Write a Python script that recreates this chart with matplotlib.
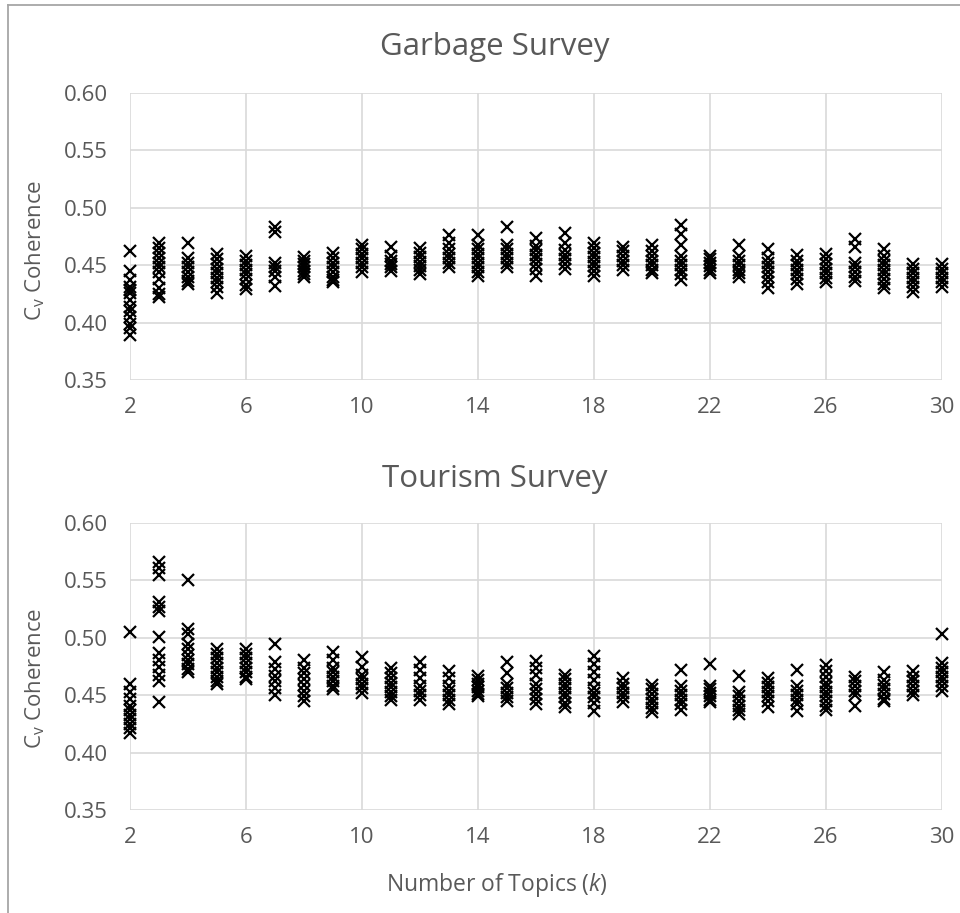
import matplotlib
matplotlib.use('Agg')
import matplotlib.pyplot as plt
from matplotlib.lines import Line2D

plt.rcParams['font.family'] = ['Open Sans', 'DejaVu Sans']
plt.rcParams['mathtext.fontset'] = 'custom'
plt.rcParams['mathtext.rm'] = 'Open Sans'
plt.rcParams['mathtext.it'] = 'Open Sans:italic'

# number of topics
topics = list(range(2, 31))

# coherence values per k (one list per k)
garbage = [
    [0.462, 0.445, 0.437, 0.431, 0.428, 0.426, 0.420, 0.414, 0.410, 0.405, 0.399, 0.395, 0.389],
    [0.469, 0.465, 0.461, 0.456, 0.452, 0.448, 0.444, 0.438, 0.430, 0.425, 0.422],
    [0.469, 0.456, 0.452, 0.448, 0.444, 0.440, 0.436, 0.434],
    [0.460, 0.455, 0.451, 0.447, 0.443, 0.439, 0.435, 0.431, 0.426],
    [0.458, 0.454, 0.450, 0.446, 0.442, 0.438, 0.433, 0.429],
    [0.483, 0.479, 0.452, 0.448, 0.445, 0.440, 0.432],
    [0.457, 0.454, 0.451, 0.448, 0.445, 0.442, 0.440],
    [0.461, 0.456, 0.452, 0.448, 0.444, 0.440, 0.437, 0.435],
    [0.468, 0.464, 0.460, 0.456, 0.452, 0.448, 0.444],
    [0.466, 0.458, 0.454, 0.451, 0.448, 0.445],
    [0.465, 0.461, 0.457, 0.453, 0.449, 0.446, 0.442],
    [0.476, 0.469, 0.464, 0.460, 0.456, 0.452, 0.448],
    [0.476, 0.468, 0.464, 0.460, 0.456, 0.452, 0.448, 0.444, 0.441],
    [0.483, 0.468, 0.464, 0.460, 0.456, 0.452, 0.448],
    [0.474, 0.467, 0.463, 0.459, 0.455, 0.451, 0.447, 0.441],
    [0.478, 0.469, 0.463, 0.459, 0.455, 0.451, 0.447],
    [0.469, 0.465, 0.461, 0.457, 0.453, 0.449, 0.445, 0.441],
    [0.466, 0.462, 0.458, 0.454, 0.450, 0.446],
    [0.468, 0.462, 0.458, 0.454, 0.450, 0.446, 0.443],
    [0.485, 0.477, 0.468, 0.458, 0.454, 0.450, 0.446, 0.442, 0.437],
    [0.458, 0.455, 0.452, 0.449, 0.446, 0.443],
    [0.468, 0.458, 0.454, 0.450, 0.446, 0.443, 0.440],
    [0.464, 0.456, 0.452, 0.448, 0.444, 0.440, 0.435, 0.430],
    [0.459, 0.454, 0.450, 0.446, 0.442, 0.438, 0.434],
    [0.460, 0.455, 0.451, 0.447, 0.443, 0.439, 0.435],
    [0.473, 0.466, 0.452, 0.448, 0.444, 0.440, 0.436],
    [0.464, 0.458, 0.454, 0.450, 0.446, 0.442, 0.438, 0.434, 0.430],
    [0.451, 0.447, 0.443, 0.439, 0.435, 0.431, 0.427],
    [0.451, 0.447, 0.443, 0.439, 0.435, 0.431],
]

tourism = [
    [0.505, 0.460, 0.453, 0.447, 0.441, 0.437, 0.433, 0.429, 0.425, 0.421, 0.417],
    [0.566, 0.561, 0.555, 0.531, 0.527, 0.523, 0.501, 0.487, 0.481, 0.475, 0.468, 0.462, 0.444],
    [0.550, 0.508, 0.503, 0.495, 0.490, 0.485, 0.481, 0.477, 0.473, 0.470],
    [0.490, 0.486, 0.482, 0.478, 0.474, 0.470, 0.466, 0.462, 0.460],
    [0.490, 0.486, 0.482, 0.478, 0.474, 0.470, 0.466, 0.464],
    [0.495, 0.479, 0.473, 0.467, 0.462, 0.456, 0.450],
    [0.481, 0.474, 0.469, 0.464, 0.459, 0.454, 0.449, 0.445],
    [0.488, 0.481, 0.474, 0.470, 0.466, 0.462, 0.458, 0.455],
    [0.483, 0.475, 0.468, 0.464, 0.460, 0.456, 0.452],
    [0.474, 0.469, 0.465, 0.461, 0.457, 0.453, 0.449, 0.446],
    [0.479, 0.472, 0.465, 0.458, 0.454, 0.450, 0.446],
    [0.471, 0.465, 0.458, 0.454, 0.450, 0.446, 0.442],
    [0.467, 0.463, 0.460, 0.457, 0.454, 0.451, 0.449],
    [0.479, 0.469, 0.460, 0.456, 0.452, 0.448, 0.445],
    [0.480, 0.474, 0.468, 0.460, 0.455, 0.451, 0.447, 0.442],
    [0.468, 0.464, 0.460, 0.456, 0.452, 0.448, 0.443, 0.440],
    [0.484, 0.477, 0.470, 0.463, 0.456, 0.452, 0.448, 0.443, 0.436],
    [0.465, 0.460, 0.456, 0.452, 0.448, 0.444],
    [0.459, 0.455, 0.451, 0.447, 0.443, 0.439, 0.435],
    [0.472, 0.458, 0.454, 0.450, 0.446, 0.442, 0.437],
    [0.477, 0.458, 0.455, 0.452, 0.449, 0.446, 0.444],
    [0.467, 0.453, 0.449, 0.445, 0.441, 0.437, 0.434],
    [0.465, 0.461, 0.457, 0.453, 0.449, 0.445, 0.440],
    [0.472, 0.458, 0.454, 0.450, 0.446, 0.442, 0.436],
    [0.476, 0.471, 0.466, 0.461, 0.457, 0.453, 0.449, 0.445, 0.441, 0.437],
    [0.466, 0.462, 0.458, 0.454, 0.450, 0.441],
    [0.470, 0.463, 0.459, 0.455, 0.451, 0.447, 0.445],
    [0.471, 0.466, 0.462, 0.458, 0.454, 0.450],
    [0.503, 0.478, 0.474, 0.470, 0.466, 0.462, 0.458, 0.454],
]

x_ticks = [2, 6, 10, 14, 18, 22, 26, 30]
y_ticks = [0.35, 0.40, 0.45, 0.50, 0.55, 0.60]

grid_col = '#d9d9d9'
text_col = '#595959'

W, H = 960, 913
fig = plt.figure(figsize=(W / 100, H / 100), dpi=100)

def panel(rect, values, title, title_y):
    ax = fig.add_axes(rect)
    for k, vals in zip(topics, values):
        ax.plot([k] * len(vals), vals, linestyle='none', marker='x', ms=8.5, mew=1.6,
                color='black', clip_on=False, zorder=3)
    ax.set_xlim(2, 30)
    ax.set_ylim(0.35, 0.60)
    ax.set_xticks(x_ticks)
    ax.set_yticks(y_ticks)
    ax.set_yticklabels([f'{v:.2f}' for v in y_ticks])
    ax.grid(True, color=grid_col, linewidth=1.2)
    ax.set_axisbelow(True)
    for s in ax.spines.values():
        s.set_visible(False)
    ax.tick_params(length=0, labelsize=16, labelcolor=text_col)
    ax.tick_params(axis='y', pad=16)
    ax.tick_params(axis='x', pad=12)
    fig.text(495 / W, 1 - title_y / H, title, ha='center', va='center', fontsize=22.5, color=text_col)
    return ax

ax1 = panel([130 / W, 1 - 380 / H, 812 / W, 287 / H], garbage, 'Garbage Survey', 47)
ax2 = panel([130 / W, 1 - 810 / H, 812 / W, 287 / H], tourism, 'Tourism Survey', 479)

for yc in (250, 678):
    fig.text(35 / W, 1 - yc / H, r'$\mathregular{C_v}$ Coherence', rotation=90, ha='center', va='center',
             fontsize=16, color=text_col)

fig.text(497 / W, 1 - 885 / H, r'Number of Topics ($\mathit{k}$)', ha='center', va='center',
         fontsize=16.5, color=text_col)

# chart area border (left and top edges visible)
fig.add_artist(Line2D([8 / W, 8 / W], [0, 1 - 5 / H], transform=fig.transFigure, color='#a6a6a6', lw=1.3))
fig.add_artist(Line2D([8 / W, 1], [1 - 5 / H, 1 - 5 / H], transform=fig.transFigure, color='#a6a6a6', lw=1.3))

plt.savefig('out.png', dpi=100)
